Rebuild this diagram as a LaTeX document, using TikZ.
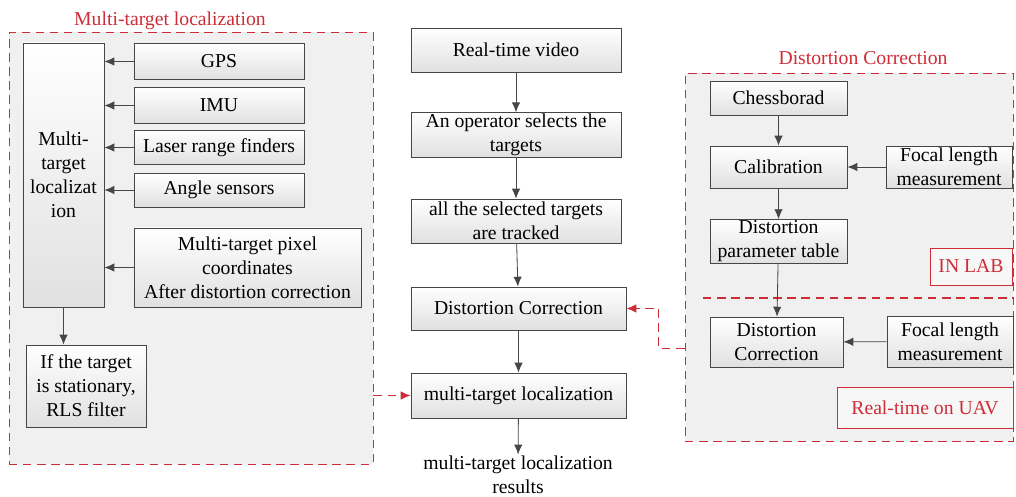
\documentclass[tikz,border=0pt]{standalone}
\usepackage{fontspec}
\setmainfont{Liberation Serif}
\usepackage{tikz}
\usetikzlibrary{arrows.meta,fit}

\definecolor{dashred}{RGB}{205,45,55}
\definecolor{boxline}{RGB}{70,70,70}

\begin{document}
\begin{tikzpicture}[
		x=0.025cm, y=-0.025cm,
		every node/.style={font=\fontsize{14}{17}\selectfont, align=center, inner sep=1pt},
		block/.style={rectangle, draw=boxline, line width=0.6pt, top color=white, bottom color=black!12},
		group/.style={rectangle, draw=dashred, line width=0.7pt, dash pattern=on 6pt off 4pt, fill=black!6, inner sep=0pt},
		tag/.style={rectangle, draw=dashred, line width=0.6pt, text=dashred, fill=black!3},
		flow/.style={draw=boxline, line width=0.6pt, -{Latex[length=7pt,width=6pt]}},
		redflow/.style={draw=dashred, line width=0.7pt, dash pattern=on 6pt off 4pt, -{Latex[length=7pt,width=6pt]}}
	]
  \useasboundingbox (0,0) rectangle (1016,496);
  % dashed regions
  \node (loc_group) [group, fit={(9,32) (373,464)}] {};
  \node (loc_title) [text=dashred] at (170,21) {Multi-target localization};
  \node (dist_group) [group, fit={(685,73) (1013,441)}] {};
  \node (dist_title) [text=dashred] at (863,58) {Distortion Correction};
  \coordinate (sep_left) at (703,298);
  \draw[draw=dashred, line width=0.8pt, dash pattern=on 6pt off 4pt] (sep_left) -- (sep_left -| dist_group.east);

  % multi-target localization
  \node (loc_main) [block, minimum width=2.025cm, minimum height=6.6cm] at (63.5,175) {Multi-\\target\\localizat\\ion};
  \node (gps) [block, minimum width=4.25cm, minimum height=0.9cm] at (219,61.5) {GPS};
  \node (imu) [block, minimum width=4.25cm, minimum height=0.9cm] at (219,105.5) {IMU};
  \node (laser) [block, minimum width=4.25cm, minimum height=0.85cm] at (219,147.5) {Laser range finders};
  \node (angle) [block, minimum width=4.25cm, minimum height=0.85cm] at (219,190) {Angle sensors};
  \node (pixel) [block, minimum width=5.675cm, minimum height=1.975cm] at (247.5,267.5) {Multi-target pixel\\coordinates\\After distortion correction};
  \node (rls) [block, minimum width=3cm, minimum height=2.05cm] at (86,386) {If the target\\is stationary,\\RLS filter};
  \foreach \src in {gps, imu, laser, angle, pixel}
    \draw[flow] (\src.west) -- (\src.west -| loc_main.east);
  \draw[flow] (loc_main.south) -- (loc_main.south |- rls.north);

  % main flow
  \node (video) [block, minimum width=5.25cm, minimum height=1.1cm] at (516,50) {Real-time video};
  \node (operator) [block, minimum width=5.25cm, minimum height=1.1cm] at (516,135) {An operator selects the\\targets};
  \node (tracked) [block, minimum width=5.25cm, minimum height=1.1cm] at (516,221) {all the selected targets\\are tracked};
  \node (correct) [block, minimum width=5.375cm, minimum height=1.075cm] at (518.5,308.5) {Distortion Correction};
  \node (localize) [block, minimum width=5.375cm, minimum height=1.125cm] at (518.5,395.5) {multi-target localization};
  \node (results) at (518,475) {multi-target localization\\results};
  \draw[flow] (video) -- (operator);
  \draw[flow] (operator) -- (tracked);
  \draw[flow] (tracked) -- (correct);
  \draw[flow] (correct) -- (localize);
  \draw[flow] (localize) -- (results);
  \draw[redflow] (loc_group.east |- localize) -- (localize.west);

  % distortion correction
  \node (chess) [block, minimum width=3.425cm, minimum height=0.85cm] at (778.5,98) {Chessborad};
  \node (calib) [block, minimum width=3.425cm, minimum height=1.05cm] at (778.5,167) {Calibration};
  \node (focal_lab) [block, minimum width=3.15cm, minimum height=1.05cm] at (949,167) {Focal length\\measurement};
  \node (param) [block, minimum width=3.425cm, minimum height=1.075cm] at (778.5,241.5) {Distortion\\parameter table};
  \node (in_lab) [tag, minimum width=2.05cm, minimum height=0.925cm] at (971,266.5) {IN LAB};
  \node (correct_uav) [block, minimum width=3.325cm, minimum height=1.25cm] at (776.5,342) {Distortion\\Correction};
  \node (focal_uav) [block, minimum width=3.15cm, minimum height=1.275cm] at (950,341.5) {Focal length\\measurement};
  \node (on_uav) [tag, minimum width=4.4cm, minimum height=1.025cm] at (925,407.5) {Real-time on UAV};
  \draw[flow] (chess) -- (calib);
  \draw[flow] (calib) -- (param);
  \draw[flow] (focal_lab) -- (calib);
  \draw[flow] (param) -- (correct_uav);
  \draw[flow] (focal_uav) -- (correct_uav);
  \coordinate (feed) at (0,348);
  \draw[redflow] (dist_group.west |- feed) -- ++(-26,0) |- (correct.east);
\end{tikzpicture}
\end{document}
